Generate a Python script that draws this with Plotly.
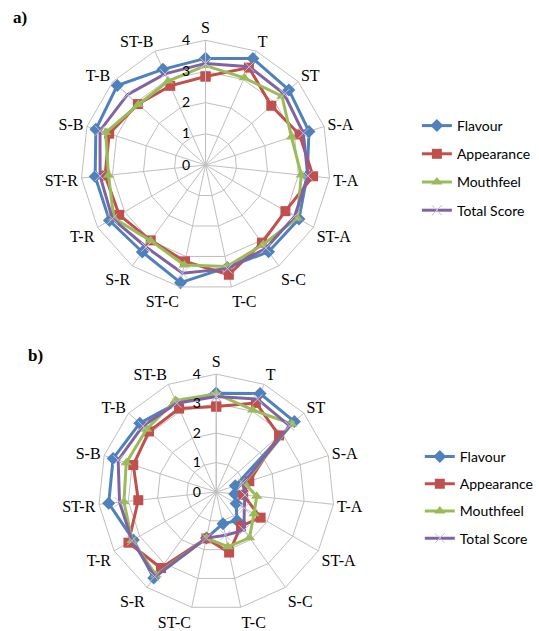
import plotly.graph_objects as go

cats = ["S", "T", "ST", "S-A", "T-A", "ST-A", "S-C", "T-C", "ST-C",
        "S-R", "T-R", "ST-R", "S-B", "T-B", "ST-B"]

a_flavour = [3.42, 3.74, 3.6, 3.49, 3.28, 3.46, 3.44, 3.36, 3.86, 3.45, 3.56, 3.56, 3.7, 3.81, 3.36]
a_appearance = [2.84, 3.42, 2.84, 3.17, 3.47, 2.96, 3.08, 3.6, 3.16, 2.99, 3.2, 3.24, 3.25, 2.92, 2.78]
a_mouthfeel = [3.19, 3.06, 3.3, 2.9, 3.09, 3.4, 3.15, 3.33, 3.28, 3.0, 3.4, 3.13, 3.37, 2.9, 2.95]
a_total = [3.26, 3.45, 3.4, 3.3, 3.3, 3.3, 3.3, 3.4, 3.55, 3.25, 3.45, 3.4, 3.56, 3.37, 3.2]

b_flavour = [3.35, 3.66, 3.57, 0.68, 0.63, 0.78, 1.2, 1.1, 1.6, 3.61, 3.25, 3.67, 3.68, 3.49, 3.3]
b_appearance = [2.9, 3.31, 2.87, 1.18, 0.92, 1.74, 1.43, 2.1, 1.61, 3.19, 3.44, 2.66, 2.96, 3.07, 3.1]
b_mouthfeel = [3.33, 3.05, 3.45, 1.0, 1.38, 1.48, 1.92, 1.9, 1.6, 3.48, 3.3, 3.15, 3.21, 3.18, 3.4]
b_total = [3.24, 3.45, 3.35, 0.95, 0.98, 1.1, 1.6, 1.5, 1.6, 3.55, 3.3, 3.3, 3.5, 3.35, 3.3]

series_names = ["Flavour", "Appearance", "Mouthfeel", "Total Score"]
radial_ticks = [0, 1, 2, 3, 4]

colors = ["#4F81BD", "#C0504D", "#9BBB59", "#8064A2"]
markers = [
    dict(symbol="diamond", size=10, color="#4F81BD"),
    dict(symbol="square", size=10, color="#C0504D"),
    dict(symbol="triangle-up", size=10, color="#9BBB59"),
    dict(symbol="x-thin-open", size=10, color="#C9BEDD", line=dict(color="#C9BEDD", width=1)),
]

fig = go.Figure()


def close(v):
    return list(v) + [v[0]]


for sub, legend, data in [
    ("polar", "legend", [a_flavour, a_appearance, a_mouthfeel, a_total]),
    ("polar2", "legend2", [b_flavour, b_appearance, b_mouthfeel, b_total]),
]:
    for name, vals, col, mk in zip(series_names, data, colors, markers):
        fig.add_trace(go.Scatterpolar(
            r=close(vals), theta=close(cats), mode="lines+markers",
            name=name, subplot=sub, legend=legend, legendgroup=sub + name,
            line=dict(color=col, width=3), marker=mk,
        ))

polar_common = dict(
    bgcolor="white",
    gridshape="linear",
    angularaxis=dict(
        categoryorder="array", categoryarray=cats,
        rotation=90, direction="clockwise",
        gridcolor="#BFBFBF", gridwidth=1,
        linecolor="#BFBFBF", linewidth=1,
        showline=True, ticks="",
        tickfont=dict(family="Liberation Serif", size=16, color="black"),
    ),
    radialaxis=dict(
        range=[0, 4], tickvals=radial_ticks, angle=90, tickangle=90,
        side="counterclockwise",
        gridcolor="#BFBFBF", gridwidth=1,
        linecolor="#BFBFBF", showline=True,
        ticks="outside", ticklen=10, tickcolor="rgba(0,0,0,0)",
        tickfont=dict(family="Lato", size=14, color="black"),
    ),
)

W, H = 539, 631


def dom(cx, cy, rad):
    return dict(x=[(cx - rad) / W, (cx + rad) / W], y=[1 - (cy + rad) / H, 1 - (cy - rad) / H])


legend_font = dict(family="Lato", size=14, color="black")

fig.update_layout(
    width=W, height=H,
    margin=dict(l=0, r=0, t=0, b=0),
    paper_bgcolor="white", plot_bgcolor="white",
    polar=dict(domain=dom(211, 165, 128), **polar_common),
    polar2=dict(domain=dom(222, 492, 121), **polar_common),
    legend=dict(x=428 / W, y=1 - 110 / H, xanchor="left", yanchor="top", font=legend_font,
                tracegroupgap=7, itemwidth=30, bgcolor="rgba(0,0,0,0)"),
    legend2=dict(x=431 / W, y=1 - 441 / H, xanchor="left", yanchor="top", font=legend_font,
                 tracegroupgap=6, itemwidth=30, bgcolor="rgba(0,0,0,0)"),
    annotations=[
        dict(text="<b>a)</b>", x=11 / W, y=1 - 17 / H, xref="paper", yref="paper",
             showarrow=False, xanchor="left", yanchor="middle",
             font=dict(family="Liberation Serif", size=17, color="black")),
        dict(text="<b>b)</b>", x=27 / W, y=1 - 355 / H, xref="paper", yref="paper",
             showarrow=False, xanchor="left", yanchor="middle",
             font=dict(family="Liberation Serif", size=17, color="black")),
    ],
)

fig.write_html("out.html")
